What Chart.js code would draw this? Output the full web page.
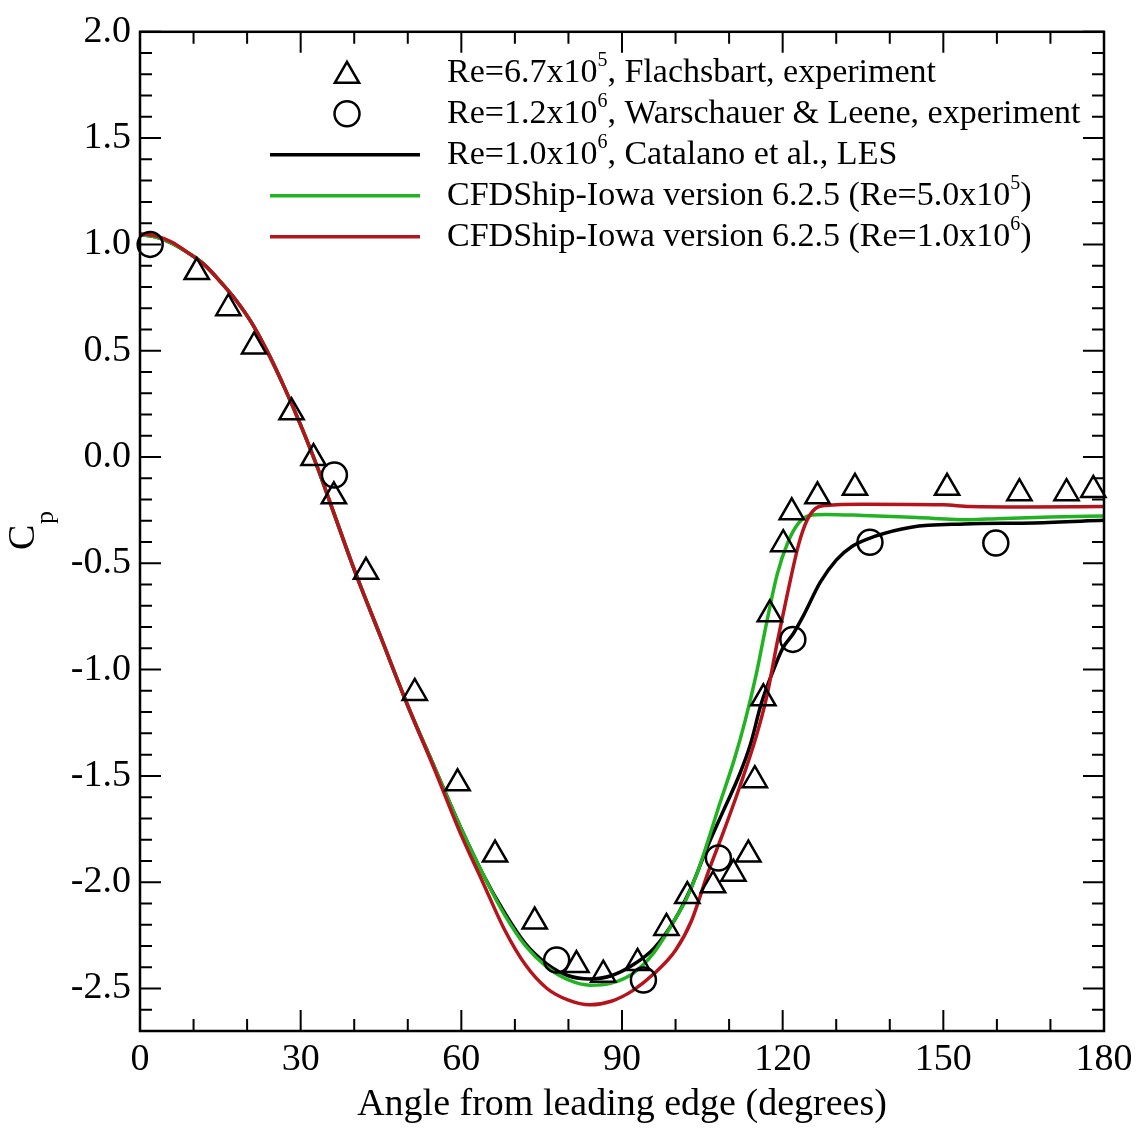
<!DOCTYPE html>
<html>
<head>
<meta charset="utf-8">
<script src="https://cdn.jsdelivr.net/npm/chart.js@4.4.0/dist/chart.umd.min.js"></script>
<style>
  html, body { margin: 0; padding: 0; background: #fff; }
  canvas { display: block; }
</style>
</head>
<body>
<canvas id="cpChart" width="1144" height="1130"></canvas>
<script>
const FONT = '"Liberation Serif", "Times New Roman", serif';
const GREEN = '#22b322';
const RED = '#b5141c';

const X_TICKS = [0, 30, 60, 90, 120, 150, 180];
const Y_TICKS = [-2.5, -2.0, -1.5, -1.0, -0.5, 0.0, 0.5, 1.0, 1.5, 2.0];

// Flachsbart, Re=6.7x10^5 (triangles)
const FLACH_ANGLE = [10.6, 16.5, 21.3, 28.3, 32.4, 36.2, 42.2, 51.3, 59.3, 66.3, 73.7, 81.5, 86.5, 92.9, 98.3,
  102.2, 107.0, 110.8, 113.6, 114.8, 116.4, 117.6, 120.1, 121.7, 126.5, 133.5, 150.7, 164.2, 173.0, 178.0];
const FLACH_CP = [0.87, 0.70, 0.52, 0.21, -0.005, -0.185, -0.54, -1.11, -1.535, -1.87, -2.185, -2.39, -2.435, -2.38, -2.215,
  -2.065, -2.015, -1.96, -1.87, -1.52, -1.135, -0.74, -0.41, -0.26, -0.185, -0.145, -0.145, -0.17, -0.17, -0.155];

// Warschauer & Leene, Re=1.2x10^6 (circles)
const WARS_ANGLE = [1.9, 36.3, 77.8, 94.0, 108.0, 121.9, 136.3, 159.8];
const WARS_CP = [1.0, -0.085, -2.366, -2.46, -1.886, -0.858, -0.401, -0.405];

// Catalano et al., LES
const LES_ANGLE = [0, 3, 6, 9, 12, 15, 18, 21, 24, 27, 30, 33, 36, 40, 45, 50, 55, 60, 64, 68, 72, 76, 80, 84, 88, 92,
  96, 100, 103, 106, 109, 112, 114, 116, 118, 120, 122, 124, 127, 130, 133, 137, 144, 154, 167, 180];
const LES_CP = [1.045, 1.035, 1.005, 0.96, 0.905, 0.825, 0.735, 0.625, 0.485, 0.325, 0.15, -0.04, -0.25, -0.53, -0.85,
  -1.17, -1.46, -1.75, -1.96, -2.14, -2.29, -2.385, -2.44, -2.455, -2.44, -2.39, -2.31, -2.17, -2.02, -1.83, -1.66,
  -1.49, -1.35, -1.16, -1.02, -0.9, -0.83, -0.74, -0.59, -0.485, -0.42, -0.375, -0.33, -0.315, -0.31, -0.298];

// CFDShip-Iowa, Re=5.0x10^5
const CFD5_ANGLE = [0, 3, 6, 9, 12, 15, 18, 21, 24, 27, 30, 33, 36, 40, 45, 50, 55, 60, 64, 68, 72, 76, 80, 84, 88, 92,
  96, 100, 102, 104, 106, 108, 111, 113, 115, 117, 119, 121, 123, 125, 128, 135, 145, 155, 160, 170, 180];
const CFD5_CP = [1.045, 1.035, 1.005, 0.96, 0.905, 0.825, 0.735, 0.625, 0.485, 0.325, 0.15, -0.04, -0.25, -0.53, -0.85,
  -1.17, -1.46, -1.75, -1.96, -2.15, -2.30, -2.40, -2.46, -2.485, -2.475, -2.43, -2.33, -2.17, -2.08, -1.96, -1.81,
  -1.65, -1.42, -1.24, -1.03, -0.78, -0.55, -0.40, -0.31, -0.275, -0.27, -0.275, -0.285, -0.295, -0.29, -0.282, -0.277];

// CFDShip-Iowa, Re=1.0x10^6
const CFD6_ANGLE = [0, 3, 6, 9, 12, 15, 18, 21, 24, 27, 30, 33, 36, 40, 45, 50, 55, 60, 64, 68, 72, 76, 80, 84, 88, 92,
  96, 100, 103, 106, 109, 112, 115, 117, 119, 121, 123, 124.5, 126, 128, 135, 150, 155, 165, 180];
const CFD6_CP = [1.05, 1.04, 1.01, 0.96, 0.905, 0.825, 0.735, 0.625, 0.485, 0.325, 0.15, -0.04, -0.25, -0.53, -0.85,
  -1.17, -1.47, -1.78, -2.0, -2.22, -2.39, -2.50, -2.555, -2.577, -2.56, -2.51, -2.43, -2.32, -2.18, -1.96, -1.76,
  -1.55, -1.32, -1.13, -0.87, -0.63, -0.41, -0.30, -0.245, -0.228, -0.222, -0.225, -0.233, -0.235, -0.233];

const LEGEND_ROWS = [
  { marker: 'triangle', parts: [['Re=6.7x10'], ['5', true], [', Flachsbart, experiment']] },
  { marker: 'circle', parts: [['Re=1.2x10'], ['6', true], [', Warschauer & Leene, experiment']] },
  { line: '#000', parts: [['Re=1.0x10'], ['6', true], [', Catalano et al., LES']] },
  { line: GREEN, parts: [['CFDShip-Iowa version 6.2.5 (Re=5.0x10'], ['5', true], [')']] },
  { line: RED, parts: [['CFDShip-Iowa version 6.2.5 (Re=1.0x10'], ['6', true], [')']] },
];

const toPoints = (xs, ys) => xs.map((x, i) => ({ x, y: ys[i] }));

const lineSet = (data, color, order) => ({
  data,
  showLine: true,
  borderColor: color,
  borderWidth: 3.5,
  pointRadius: 0,
  cubicInterpolationMode: 'monotone',
  order,
});

const markerSet = (data, style, radius) => ({
  data,
  showLine: false,
  pointStyle: style,
  pointRadius: radius,
  pointBorderWidth: 2.5,
  pointBorderColor: '#000',
  pointBackgroundColor: 'rgba(0,0,0,0)',
  clip: false,
  order: 0,
});

const drawMarker = (ctx, style, x, y, r) => {
  ctx.beginPath();
  if (style === 'circle') {
    ctx.arc(x, y, r, 0, Math.PI * 2);
  } else {
    let rad = 0;
    for (let i = 0; i < 3; i++) {
      const px = x + Math.sin(rad) * r;
      const py = y - Math.cos(rad) * r;
      if (i === 0) ctx.moveTo(px, py); else ctx.lineTo(px, py);
      rad += (2 * Math.PI) / 3;
    }
    ctx.closePath();
  }
  ctx.stroke();
};

// inward ticks on all four sides plus the frame
const frameAndTicks = {
  id: 'frameAndTicks',
  afterDatasetsDraw(chart) {
    const { ctx, chartArea: a, scales: { x, y } } = chart;
    ctx.save();
    ctx.strokeStyle = '#000';
    ctx.lineWidth = 2;
    ctx.beginPath();
    for (let v = 0; v <= 180; v += 10) {
      const px = x.getPixelForValue(v);
      const len = v % 30 === 0 ? 21 : 12;
      ctx.moveTo(px, a.bottom);
      ctx.lineTo(px, a.bottom - len);
      ctx.moveTo(px, a.top);
      ctx.lineTo(px, a.top + len);
    }
    for (let i = -27; i <= 20; i++) {
      const py = y.getPixelForValue(i / 10);
      const len = i % 5 === 0 ? 21 : 12;
      ctx.moveTo(a.left, py);
      ctx.lineTo(a.left + len, py);
      ctx.moveTo(a.right, py);
      ctx.lineTo(a.right - len, py);
    }
    ctx.stroke();
    ctx.lineWidth = 2.5;
    ctx.strokeRect(a.left, a.top, a.right - a.left, a.bottom - a.top);
    ctx.restore();
  },
};

const legendAndLabel = {
  id: 'legendAndLabel',
  afterDraw(chart) {
    const { ctx, chartArea: a } = chart;
    ctx.save();
    ctx.fillStyle = '#000';
    ctx.textBaseline = 'middle';

    LEGEND_ROWS.forEach((row, i) => {
      const cy = a.top + 41 + i * 41;
      if (row.marker) {
        ctx.strokeStyle = '#000';
        ctx.lineWidth = 2.5;
        drawMarker(ctx, row.marker, 347, row.marker === 'triangle' ? cy + 3 : cy, row.marker === 'triangle' ? 14 : 12.5);
      } else {
        ctx.strokeStyle = row.line;
        ctx.lineWidth = 3.5;
        ctx.beginPath();
        ctx.moveTo(270, cy);
        ctx.lineTo(420, cy);
        ctx.stroke();
      }
      let tx = 447;
      row.parts.forEach(([text, sup]) => {
        ctx.font = `${sup ? 20 : 34}px ${FONT}`;
        ctx.textAlign = 'left';
        ctx.fillText(text, tx, sup ? cy - 12 : cy);
        tx += ctx.measureText(text).width;
      });
    });

    // y axis title: C with subscript p
    ctx.translate(24, (a.top + a.bottom) / 2 + 6);
    ctx.rotate(-Math.PI / 2);
    ctx.textAlign = 'center';
    ctx.font = `38px ${FONT}`;
    ctx.fillText('C', 0, 0);
    ctx.font = `26px ${FONT}`;
    ctx.fillText('p', 20, 22);
    ctx.restore();
  },
};

new Chart(document.getElementById('cpChart').getContext('2d'), {
  type: 'scatter',
  data: {
    datasets: [
      markerSet(toPoints(FLACH_ANGLE, FLACH_CP), 'triangle', 14),
      markerSet(toPoints(WARS_ANGLE, WARS_CP), 'circle', 12.5),
      lineSet(toPoints(CFD6_ANGLE, CFD6_CP), RED, 1),
      lineSet(toPoints(CFD5_ANGLE, CFD5_CP), GREEN, 2),
      lineSet(toPoints(LES_ANGLE, LES_CP), '#000', 3),
    ],
  },
  options: {
    responsive: false,
    animation: false,
    layout: { padding: { top: 27, right: 40, left: 0, bottom: 0 } },
    plugins: { legend: { display: false }, tooltip: { enabled: false } },
    scales: {
      x: {
        type: 'linear',
        min: 0,
        max: 180,
        afterBuildTicks: (s) => { s.ticks = X_TICKS.map((value) => ({ value })); },
        afterFit: (s) => { s.height = 99; },
        grid: { display: false, drawTicks: false },
        border: { display: false },
        ticks: {
          color: '#000',
          font: { family: FONT, size: 38 },
          padding: 6,
          maxRotation: 0,
          autoSkip: false,
          callback: (v) => String(v),
        },
        title: {
          display: true,
          text: 'Angle from leading edge (degrees)',
          color: '#000',
          font: { family: FONT, size: 38 },
          padding: { top: 0, bottom: 2 },
        },
      },
      y: {
        type: 'linear',
        min: -2.7,
        max: 2.0,
        afterBuildTicks: (s) => { s.ticks = Y_TICKS.map((value) => ({ value })); },
        afterFit: (s) => { s.width = 140; },
        grid: { display: false, drawTicks: false },
        border: { display: false },
        ticks: {
          color: '#000',
          font: { family: FONT, size: 38 },
          padding: 9,
          callback: (v) => v.toFixed(1),
        },
      },
    },
  },
  plugins: [frameAndTicks, legendAndLabel],
});
</script>
</body>
</html>
